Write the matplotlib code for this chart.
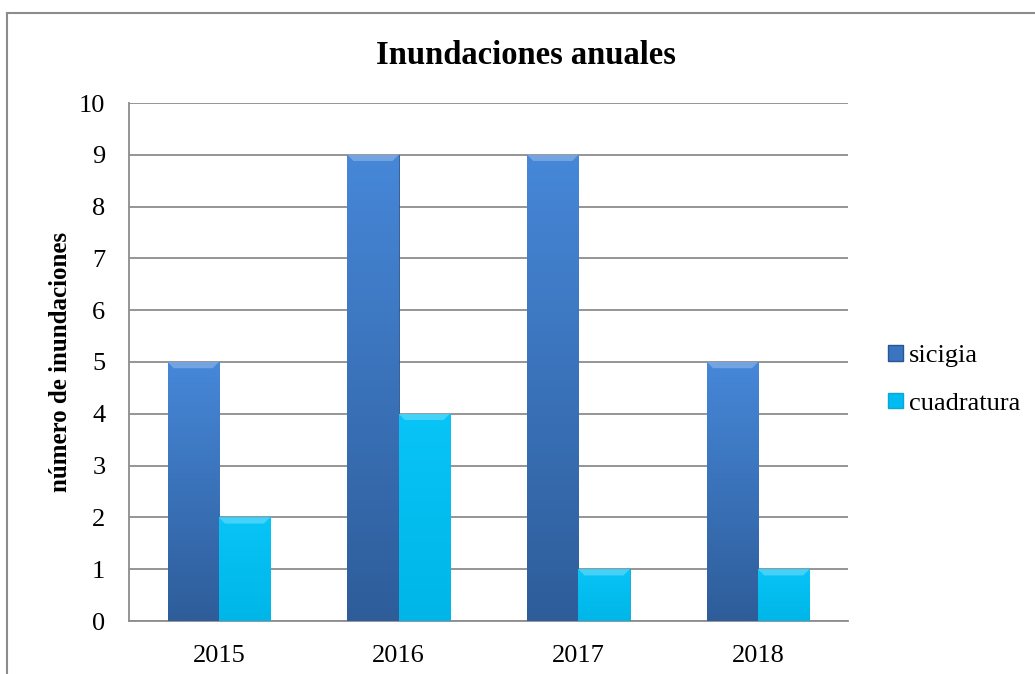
import numpy as np
import matplotlib
matplotlib.use("Agg")
from matplotlib import pyplot as plt
from matplotlib.colors import LinearSegmentedColormap
from matplotlib.patches import Patch

years = ["2015", "2016", "2017", "2018"]
sicigia = [5, 9, 9, 5]
cuadratura = [2, 4, 1, 1]

plt.rcParams['font.family'] = ['Liberation Serif', 'DejaVu Serif']

fig = plt.figure(figsize=(10.35, 6.74), dpi=100)
ax = fig.add_axes([129 / 1035, 1 - 621 / 674, (848 - 129) / 1035, (621 - 103) / 674])

x = np.arange(len(years))
w = 0.285

cm_sic = LinearSegmentedColormap.from_list("sic", ["#2e5d9a", "#4687d8"])
cm_cua = LinearSegmentedColormap.from_list("cua", ["#00b6e8", "#08c4f7"])


def grad_bars(xs, vals, cmap, edge):
    bars = ax.bar(xs, vals, w, color=edge, edgecolor=edge, linewidth=0.6, zorder=3)
    for b in bars:
        x0, y0 = b.get_x(), b.get_y()
        bw, bh = b.get_width(), b.get_height()
        g = np.linspace(0, 1, 100).reshape(-1, 1)
        im = ax.imshow(g, cmap=cmap, origin="lower", aspect="auto",
                       extent=[x0, x0 + bw, y0, y0 + bh], zorder=3.5)
        im.set_clip_path(b)
        # light bevel at top
        ax.fill([x0, x0 + bw, x0 + bw * 0.88, x0 + bw * 0.12],
                [y0 + bh, y0 + bh, y0 + bh - 0.12, y0 + bh - 0.12],
                color="white", alpha=0.25, lw=0, zorder=4)
    return bars


grad_bars(x - w / 2, sicigia, cm_sic, "#2a5590")
grad_bars(x + w / 2, cuadratura, cm_cua, "#0aa6d6")

ax.set_xlim(-0.5, 3.5)
ax.set_ylim(0, 10)
ax.set_yticks(range(0, 11))
ax.set_xticks(x)
ax.set_xticklabels(years)
ax.tick_params(axis="both", length=0, labelsize=19)
ax.tick_params(axis="y", pad=17)
ax.tick_params(axis="x", pad=17)
ax.grid(axis="y", color="#8c8c8c", linewidth=1.3, zorder=0)
ax.set_axisbelow(True)
for s in ["top", "right"]:
    ax.spines[s].set_visible(False)
for s in ["left", "bottom"]:
    ax.spines[s].set_color("#8c8c8c")
    ax.spines[s].set_linewidth(1.3)

ax.set_ylabel("número de inundaciones", fontsize=18, fontweight="bold")
ax.yaxis.set_label_coords(-57 / 719, 0.5)
fig.text(0.508, 1 - 55 / 674, "Inundaciones anuales", fontsize=23.5, fontweight="bold",
         ha="center", va="center")

handles = [Patch(facecolor="#3a74c0", edgecolor="#2a5590"),
           Patch(facecolor="#00bcf2", edgecolor="#0aa6d6")]
fig.legend(handles, ["sicigia", "cuadratura"], loc="center left",
           bbox_to_anchor=(888 / 1035, 1 - 380 / 674), frameon=False, fontsize=19,
           handlelength=0.55, handleheight=0.55, handletextpad=0.25, labelspacing=0.95,
           borderpad=0, borderaxespad=0)

# outer chart border (top and left)
fig.add_artist(plt.Line2D([7 / 1035, 7 / 1035], [0, 1 - 13 / 674], color="#8c8c8c", lw=1.5))
fig.add_artist(plt.Line2D([7 / 1035, 1], [1 - 13 / 674, 1 - 13 / 674], color="#8c8c8c", lw=1.5))

fig.savefig("out.png", dpi=100)
